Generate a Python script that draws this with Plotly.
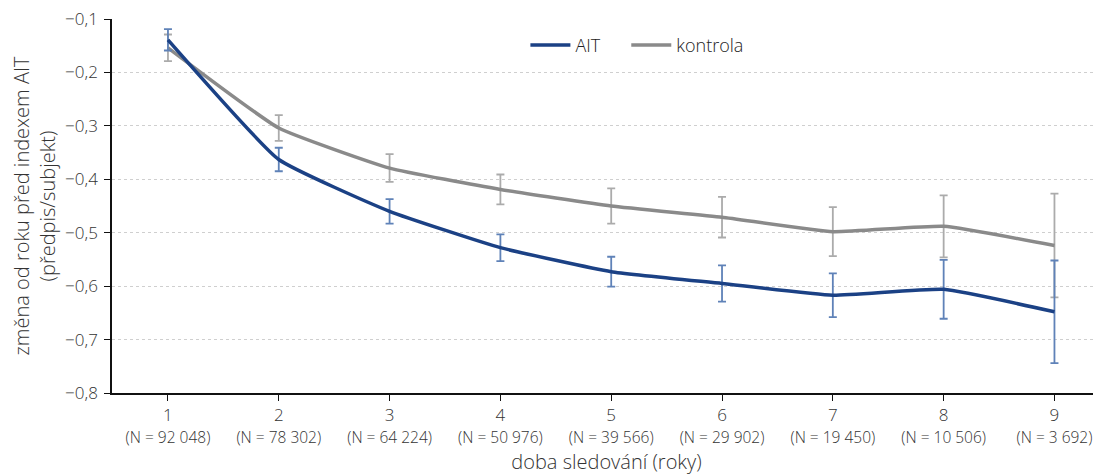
import plotly.graph_objects as go

years = [1, 2, 3, 4, 5, 6, 7, 8, 9]
n_labels = ["92 048", "78 302", "64 224", "50 976", "39 566", "29 902", "19 450", "10 506", "3 692"]

ait = [-0.139, -0.363, -0.460, -0.528, -0.573, -0.595, -0.617, -0.606, -0.648]
ait_err = [0.020, 0.022, 0.023, 0.025, 0.028, 0.034, 0.041, 0.055, 0.096]

kontrola = [-0.154, -0.304, -0.379, -0.419, -0.450, -0.471, -0.498, -0.488, -0.524]
kontrola_err = [0.025, 0.024, 0.026, 0.028, 0.033, 0.038, 0.046, 0.058, 0.097]

y_ticks = [-0.8, -0.7, -0.6, -0.5, -0.4, -0.3, -0.2, -0.1]
y_tick_text = ["−0,8", "−0,7", "−0,6", "−0,5", "−0,4", "−0,3", "−0,2", "−0,1"]

FONT = "Open Sans, Roboto, sans-serif"

fig = go.Figure()
fig.add_trace(go.Scatter(
    x=years, y=kontrola, name="kontrola", mode="lines", legend="legend2", showlegend=True,
    line=dict(color="#8a8a8a", width=3.5, shape="spline", smoothing=0.4),
    error_y=dict(type="data", array=kontrola_err, visible=True,
                 color="#ababab", thickness=1.8, width=4),
))
fig.add_trace(go.Scatter(
    x=years, y=ait, name="AIT", mode="lines", legend="legend", showlegend=True,
    line=dict(color="#1b4185", width=3.5, shape="spline", smoothing=0.4),
    error_y=dict(type="data", array=ait_err, visible=True,
                 color="#5f82b8", thickness=1.8, width=4),
))

tick_text = [f"{y}<br><span style='font-size:15.5px'>(N = {n})</span>" for y, n in zip(years, n_labels)]

leg_common = dict(orientation="h", y=0.93, xanchor="left", yanchor="middle",
                  font=dict(size=18, color="#222222", weight=300),
                  bgcolor="rgba(0,0,0,0)", itemwidth=40, visible=True)

fig.update_layout(
    width=1093, height=467,
    margin=dict(l=104, r=0, t=11, b=82),
    plot_bgcolor="white", paper_bgcolor="white",
    showlegend=True,
    font=dict(family=FONT, color="#333333", size=17, weight=300),
    legend=dict(x=0.418, **leg_common),
    legend2=dict(x=0.520, **leg_common),
    xaxis=dict(
        range=[0.495, 9.42], tickmode="array", tickvals=years, ticktext=tick_text,
        showgrid=False, zeroline=False, showline=True, linecolor="#111111", linewidth=1.5,
        ticks="outside", ticklen=6, tickcolor="#111111", tickwidth=1.2,
        tickfont=dict(size=17), automargin=False,
        title=dict(text="doba sledování (roky)", font=dict(size=20), standoff=8),
    ),
    yaxis=dict(
        range=[-0.8, -0.1], tickmode="array", tickvals=y_ticks, ticktext=y_tick_text,
        showgrid=True, gridcolor="#cfcfcf", griddash="dot", gridwidth=1,
        zeroline=False, showline=True, linecolor="#111111", linewidth=1.5,
        ticks="outside", ticklen=6, tickcolor="#111111", tickwidth=1.2,
        tickfont=dict(size=17), automargin=False, ticklabelstandoff=3,
        ticklabeloverflow="allow",
        title=dict(text="změna od roku před indexem AIT<br>(předpis/subjekt)", font=dict(size=20), standoff=13),
    ),
)

fig.write_html("out.html")
